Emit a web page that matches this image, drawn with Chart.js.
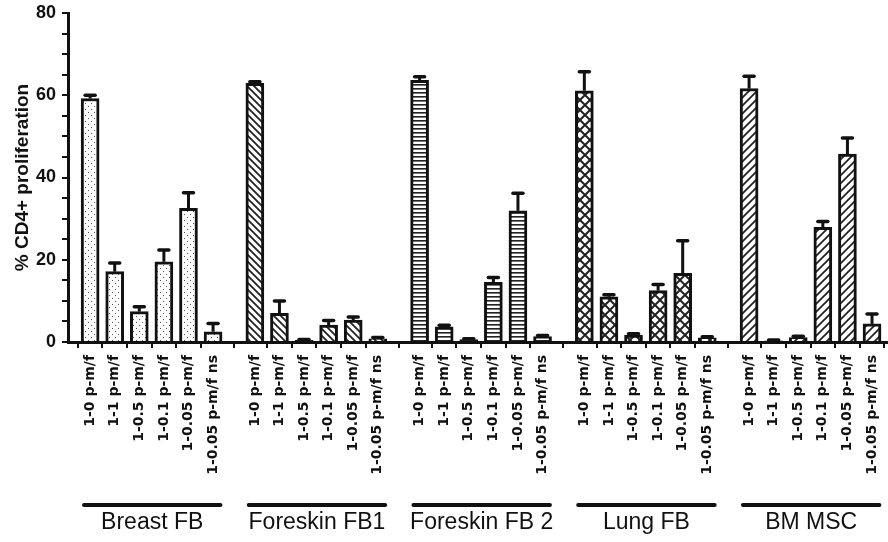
<!DOCTYPE html>
<html>
<head>
<meta charset="utf-8">
<script src="https://cdn.jsdelivr.net/npm/chart.js@4.4.1/dist/chart.umd.min.js"></script>
<style>
  html, body { margin: 0; padding: 0; background: #fff; }
  #wrap { width: 888px; height: 542px; position: relative; }
</style>
</head>
<body>
<div id="wrap"><canvas id="c" width="888" height="542"></canvas></div>
<script>
// ---- data ----
const groups = ['Breast FB', 'Foreskin FB1', 'Foreskin FB 2', 'Lung FB', 'BM MSC'];
const conditions = ['1-0 p-m/f', '1-1 p-m/f', '1-0.5 p-m/f', '1-0.1 p-m/f', '1-0.05 p-m/f', '1-0.05 p-m/f ns'];
const breastFB    = [59.2, 17.1, 7.4, 19.5, 32.5, 2.5];
const breastErr   = [0.8, 2.1, 1.2, 2.9, 3.8, 2.0];
const foreskin1   = [62.9, 7.0, 0.4, 4.1, 5.3, 0.8];
const foreskin1Err= [0.4, 3.0, 0.2, 1.1, 0.8, 0.3];
const foreskin2   = [63.6, 3.7, 0.6, 14.5, 31.9, 1.3];
const foreskin2Err= [0.9, 0.4, 0.2, 1.2, 4.3, 0.3];
const lungFB      = [61.1, 11.0, 1.7, 12.5, 16.7, 1.0];
const lungErr     = [4.6, 0.5, 0.3, 1.5, 7.9, 0.3];
const bmMSC       = [61.6, 0.3, 1.1, 27.9, 45.7, 4.4];
const bmErr       = [3.0, 0.2, 0.3, 1.4, 3.9, 2.4];
const yTicks = [0, 20, 40, 60, 80];

const seriesValues = [breastFB, foreskin1, foreskin2, lungFB, bmMSC];
const seriesErrors = [breastErr, foreskin1Err, foreskin2Err, lungErr, bmErr];

// ---- layout helpers ----
const GROUP_STEP = 6.7;   // slot distance between group starts
function slotX(g, i) { return g * GROUP_STEP + i; }

// ---- patterns ----
function makePattern(kind) {
  const c = document.createElement('canvas');
  let s = 6;
  if (kind === 'dots') s = 6;
  if (kind === 'back') s = 7;
  if (kind === 'fwd') s = 8;
  if (kind === 'horiz') s = 4;
  if (kind === 'cross') s = 10;
  c.width = s; c.height = s;
  const x = c.getContext('2d');
  x.fillStyle = '#fff'; x.fillRect(0, 0, s, s);
  x.strokeStyle = '#222'; x.fillStyle = '#555';
  if (kind === 'dots') {
    x.fillRect(1, 1, 1, 1);
    x.fillRect(4, 4, 1, 1);
  } else if (kind === 'back') {
    x.lineWidth = 1.8;
    x.beginPath();
    x.moveTo(-1, -1); x.lineTo(s + 1, s + 1);
    x.moveTo(-1, s - 1); x.lineTo(1, s + 1);
    x.moveTo(s - 1, -1); x.lineTo(s + 1, 1);
    x.stroke();
  } else if (kind === 'fwd') {
    x.lineWidth = 1.8;
    x.beginPath();
    x.moveTo(-1, s + 1); x.lineTo(s + 1, -1);
    x.moveTo(-1, 1); x.lineTo(1, -1);
    x.moveTo(s - 1, s + 1); x.lineTo(s + 1, s - 1);
    x.stroke();
  } else if (kind === 'horiz') {
    x.fillStyle = '#222';
    x.fillRect(0, 0, s, 1.6);
  } else if (kind === 'cross') {
    x.lineWidth = 2;
    x.beginPath();
    x.moveTo(-1, -1); x.lineTo(s + 1, s + 1);
    x.moveTo(-1, s + 1); x.lineTo(s + 1, -1);
    x.stroke();
  }
  const ctx = document.getElementById('c').getContext('2d');
  return ctx.createPattern(c, 'repeat');
}
const patterns = [makePattern('dots'), makePattern('back'), makePattern('horiz'), makePattern('cross'), makePattern('fwd')];

const datasets = seriesValues.map((vals, g) => ({
  label: groups[g],
  data: vals.map((v, i) => ({ x: slotX(g, i), y: v })),
  errors: seriesErrors[g],
  backgroundColor: patterns[g],
  borderColor: '#111',
  borderWidth: 3,
  borderSkipped: 'start',
  barThickness: 18,
  grouped: false
}));

const tickPositions = [];
groups.forEach((_, g) => conditions.forEach((_, i) => tickPositions.push(slotX(g, i))));

const errorBars = {
  id: 'errorBars',
  afterDatasetsDraw(chart) {
    const ctx = chart.ctx;
    const ys = chart.scales.y;
    ctx.save();
    ctx.strokeStyle = '#111';
    chart.data.datasets.forEach((ds, di) => {
      const meta = chart.getDatasetMeta(di);
      meta.data.forEach((el, j) => {
        const top = ys.getPixelForValue(ds.data[j].y + ds.errors[j]);
        const base = el.y;
        ctx.lineWidth = 3;
        ctx.beginPath();
        ctx.moveTo(el.x, base);
        ctx.lineTo(el.x, top);
        ctx.stroke();
        ctx.lineWidth = 3.5;
        ctx.lineCap = 'round';
        ctx.beginPath();
        ctx.moveTo(el.x - 5, top);
        ctx.lineTo(el.x + 5, top);
        ctx.stroke();
        ctx.lineCap = 'butt';
      });
    });
    ctx.restore();
  }
};

const groupLabels = {
  id: 'groupLabels',
  afterDraw(chart) {
    const ctx = chart.ctx;
    const xs = chart.scales.x;
    const bottom = chart.chartArea.bottom;
    ctx.save();
    groups.forEach((name, g) => {
      const x1 = xs.getPixelForValue(slotX(g, 0) - 0.25);
      const x2 = xs.getPixelForValue(slotX(g, conditions.length - 1) + 0.3);
      ctx.strokeStyle = '#111';
      ctx.lineWidth = 4;
      ctx.lineCap = 'round';
      ctx.beginPath();
      ctx.moveTo(x1, bottom + 163);
      ctx.lineTo(x2, bottom + 163);
      ctx.stroke();
      ctx.fillStyle = '#111';
      ctx.font = '23px "Liberation Sans", Arial, sans-serif';
      ctx.textAlign = 'center';
      ctx.textBaseline = 'alphabetic';
      ctx.fillText(name, (x1 + x2) / 2, bottom + 187);
    });
    ctx.restore();
  }
};

new Chart(document.getElementById('c'), {
  type: 'bar',
  data: { datasets },
  options: {
    responsive: false,
    animation: false,
    events: [],
    layout: { padding: { top: 13, left: 0, right: 0, bottom: 0 } },
    plugins: { legend: { display: false }, tooltip: { enabled: false } },
    scales: {
      x: {
        type: 'linear',
        offset: false,
        min: -0.9,
        max: 32.45,
        afterBuildTicks(scale) { scale.ticks = tickPositions.map(v => ({ value: v })); },
        afterFit(scale) { scale.height = 200; scale.paddingRight = 0; scale.paddingLeft = 0; },
        ticks: {
          autoSkip: false,
          minRotation: 90,
          maxRotation: 90,
          padding: 7,
          color: '#111',
          font: { family: '"DejaVu Sans", sans-serif', size: 14, weight: 'bold' },
          callback(value, index) { return conditions[index % conditions.length]; }
        },
        grid: { drawOnChartArea: false, drawTicks: true, tickLength: 6, color: '#111', lineWidth: 2 },
        border: { display: true, color: '#111', width: 3 }
      },
      y: {
        min: 0,
        max: 80,
        afterFit(scale) { scale.width = 68; scale.paddingTop = 0; scale.paddingBottom = 0; },
        ticks: {
          stepSize: 5,
          autoSkip: false,
          padding: 6,
          color: '#111',
          font: { family: '"Liberation Sans", Arial, sans-serif', size: 18, weight: 'bold' },
          callback(value) { return yTicks.includes(value) ? String(value) : ''; }
        },
        grid: { drawOnChartArea: false, drawTicks: true, tickLength: 6, color: '#111', lineWidth: 2 },
        border: { display: true, color: '#111', width: 3 },
        title: {
          display: true,
          text: '% CD4+ proliferation',
          color: '#111',
          font: { family: '"Liberation Sans", Arial, sans-serif', size: 19, weight: 'bold' },
          padding: { top: 11, bottom: 0 }
        }
      }
    }
  },
  plugins: [errorBars, groupLabels]
});
</script>
</body>
</html>
